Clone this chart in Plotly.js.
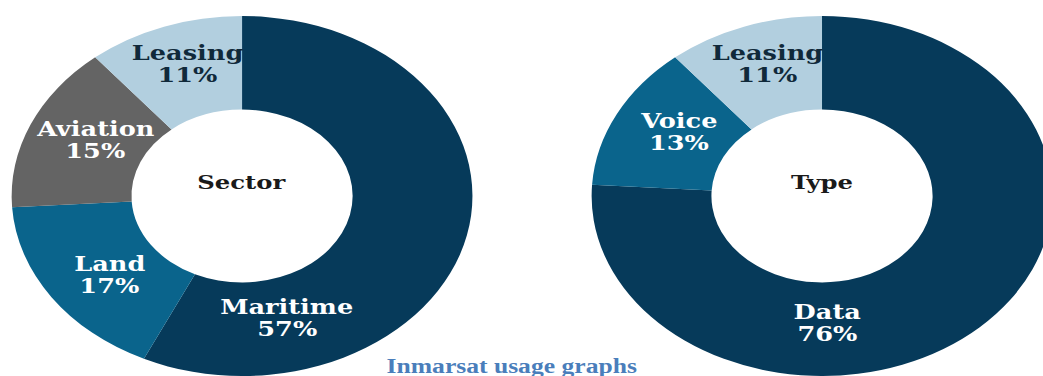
<!DOCTYPE html>
<html>
<head>
<meta charset="utf-8">
<script src="https://cdn.plot.ly/plotly-3.0.1.min.js"></script>
<style>
  html, body { margin: 0; padding: 0; background: #ffffff; overflow: hidden; width: 1043px; height: 376px; }
  #chart { width: 830px; height: 376px; transform: scaleX(1.28); transform-origin: 0 0; }
</style>
</head>
<body>
<div id="chart"></div>
<script>
// ---- Data ----
const sectorLabels = ["Maritime", "Land", "Aviation", "Leasing"];
const sectorValues = [57, 17, 15, 11];
const sectorColors = ["#063a5a", "#0a648c", "#646464", "#b2cfdf"];

const typeLabels = ["Data", "Voice", "Leasing"];
const typeValues = [76, 13, 11];
const typeColors = ["#063a5a", "#0a648c", "#b2cfdf"];

const centerTitles = ["Sector", "Type"];
const caption = "Inmarsat usage graphs";

// ---- Layout geometry (unscaled pixels) ----
const W = 830, H = 376;
const R = 180, HOLE = 0.48;
const CY = 196;
const centers = [189.1, 642.2];
const bigLabelAngle = [164, 178]; // degrees clockwise from 12 o'clock for the largest slice label
const bigLabelRadius = 127;
const smallLabelRx = 125, smallLabelRy = 140;
const lineGap = 11;
const labelFont = "DejaVu Serif, serif";

function px2x(px) { return px / W; }
function py2y(py) { return 1 - py / H; }

const pies = [
  { labels: sectorLabels, values: sectorValues, colors: sectorColors, title: centerTitles[0] },
  { labels: typeLabels, values: typeValues, colors: typeColors, title: centerTitles[1] }
];

const traces = [];
const annotations = [];

function addText(x, y, txt, size, color) {
  annotations.push({
    x: px2x(x), y: py2y(y), xref: "paper", yref: "paper",
    text: "<b>" + txt + "</b>", showarrow: false,
    xanchor: "center", yanchor: "middle",
    font: { family: labelFont, size: size, color: color }
  });
}

pies.forEach((p, i) => {
  const cx = centers[i];
  traces.push({
    type: "pie",
    labels: p.labels,
    values: p.values,
    marker: { colors: p.colors, line: { width: 0 } },
    hole: HOLE,
    sort: false,
    direction: "clockwise",
    rotation: 0,
    textinfo: "none",
    hoverinfo: "none",
    showlegend: false,
    domain: { x: [px2x(cx - R), px2x(cx + R)], y: [0, py2y(CY - R)] }
  });
  const total = p.values.reduce((a, b) => a + b, 0);
  const maxV = Math.max(...p.values);
  let cum = 0;
  p.values.forEach((v, k) => {
    let angDeg = (cum + v / 2) / total * 360;
    let rx = smallLabelRx, ry = smallLabelRy;
    if (v === maxV) { angDeg = bigLabelAngle[i]; rx = ry = bigLabelRadius; }
    cum += v;
    const a = angDeg * Math.PI / 180;
    const lx = cx + rx * Math.sin(a);
    const ly = CY - ry * Math.cos(a);
    const color = p.colors[k] === "#b2cfdf" ? "#10293a" : "#ffffff";
    addText(lx, ly - lineGap, p.labels[k], 20, color);
    addText(lx, ly + lineGap, v + "%", 20, color);
  });
  addText(cx, CY - 14, p.title, 19, "#1a1a1a");
});

annotations.push({
  x: px2x(400), y: py2y(366), xref: "paper", yref: "paper",
  text: "<b>" + caption + "</b>", showarrow: false,
  xanchor: "center", yanchor: "middle",
  font: { family: "Liberation Serif, serif", size: 20, color: "#4a7ebb" }
});

const layout = {
  width: W, height: H,
  margin: { l: 0, r: 0, t: 0, b: 0, pad: 0 },
  paper_bgcolor: "#ffffff",
  plot_bgcolor: "#ffffff",
  showlegend: false,
  annotations: annotations
};

Plotly.newPlot("chart", traces, layout, { staticPlot: true, displayModeBar: false });
</script>
</body>
</html>
